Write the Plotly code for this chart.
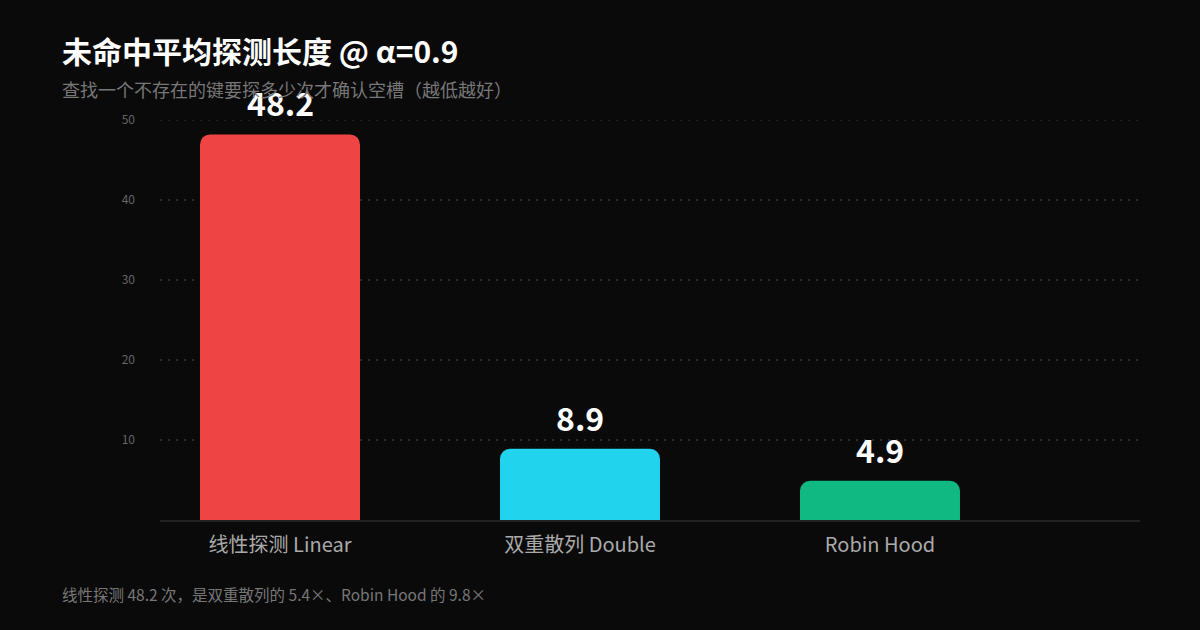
import plotly.graph_objects as go

categories = ["线性探测 Linear", "双重散列 Double", "Robin Hood"]
values = [48.2, 8.9, 4.9]
labels = ["48.2", "8.9", "4.9"]
colors = ["#EF4444", "#22D3EE", "#10B981"]
y_ticks = [10, 20, 30, 40, 50]

FONT = "Noto Sans CJK SC, Noto Sans, sans-serif"

W, H = 1200, 630
L, R, T, B = 160, 60, 120, 110
pw = W - L - R
ph = H - T - B


def px(xp):
    return (xp - L) / pw


def py(yp):
    return (H - B - yp) / ph


fig = go.Figure()
fig.add_trace(go.Bar(
    x=categories, y=values,
    marker=dict(color=colors, cornerradius=10, line=dict(width=0)),
    width=0.5333,
    hoverinfo="skip",
))

# top gridline (plotly omits gridlines lying on the plot edge)
fig.add_shape(type="line", xref="paper", yref="y", x0=0, x1=1,
              y0=y_ticks[-1], y1=y_ticks[-1], layer="below",
              line=dict(color="#2c2c2c", width=1.5, dash="2px,6px"))

for c, v, t in zip(categories, values, labels):
    fig.add_annotation(x=c, y=v, text=f"<b>{t}</b>", showarrow=False,
                       yanchor="bottom", yshift=7,
                       font=dict(family=FONT, size=32, color="#ffffff"))

fig.add_annotation(xref="paper", yref="paper", x=px(60), y=py(50), xanchor="left", yanchor="middle",
                   text="<b>未命中平均探测长度 @ α=0.9</b>", showarrow=False,
                   font=dict(family=FONT, size=30, color="#ffffff"))
fig.add_annotation(xref="paper", yref="paper", x=px(60), y=py(89), xanchor="left", yanchor="middle",
                   text="查找一个不存在的键要探多少次才确认空槽（越低越好）", showarrow=False,
                   font=dict(family=FONT, size=18, color="#777777"))
fig.add_annotation(xref="paper", yref="paper", x=px(60), y=py(594), xanchor="left", yanchor="middle",
                   text="线性探测 48.2 次，是双重散列的 5.4×、Robin Hood 的 9.8×", showarrow=False,
                   font=dict(family=FONT, size=15.5, color="#777777"))

fig.update_layout(
    width=W, height=H,
    margin=dict(l=L, r=R, t=T, b=B),
    paper_bgcolor="#0a0a0a", plot_bgcolor="#0a0a0a",
    showlegend=False,
    font=dict(family=FONT),
    xaxis=dict(range=[-0.4, 2.8667], showgrid=False, zeroline=False,
               showline=True, linecolor="#222222", linewidth=2,
               ticks="", tickfont=dict(size=20, color="#aaaaaa"),
               ticklabelstandoff=6, fixedrange=True),
    yaxis=dict(range=[0, 50], tickvals=y_ticks, showgrid=True,
               gridcolor="#2c2c2c", griddash="2px,6px", gridwidth=1.5,
               zeroline=False, showline=False, ticks="",
               tickfont=dict(size=12, color="#666666"),
               ticklabelstandoff=24, fixedrange=True),
)

fig.write_html("out.html", config={"displayModeBar": False},
               post_script="document.body.style.margin='0';document.body.style.background='#0a0a0a';")
